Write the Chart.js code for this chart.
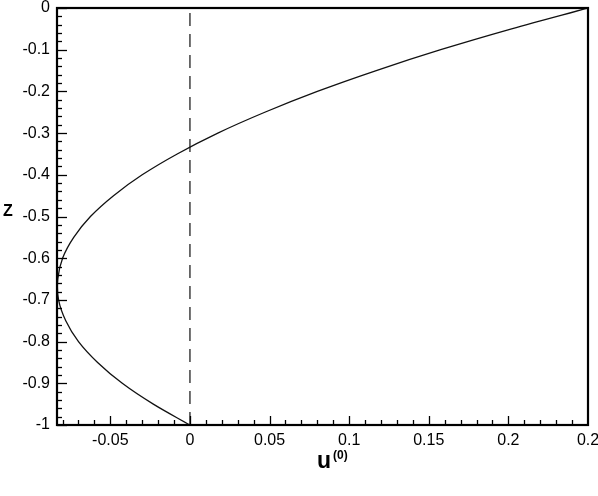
<!DOCTYPE html>
<html>
<head>
<meta charset="utf-8">
<script src="https://cdn.jsdelivr.net/npm/chart.js@4.4.0/dist/chart.umd.min.js"></script>
<style>
  html, body { margin: 0; padding: 0; background: #fff; }
  #wrap { width: 598px; height: 496px; }
</style>
</head>
<body>
<div id="wrap"><canvas id="profileChart" width="598" height="496"></canvas></div>
<script>
// values: z (vertical) and u(0) (horizontal)
const zValues = [0, -0.05, -0.1, -0.15, -0.2, -0.25, -0.3, -0.35, -0.4, -0.45, -0.5,
                 -0.55, -0.6, -0.65, -0.7, -0.75, -0.8, -0.85, -0.9, -0.95, -1];
const uValues = [0.25, 0.202, 0.1575, 0.117, 0.08, 0.047, 0.0175, -0.008, -0.03, -0.048, -0.0625,
                 -0.073, -0.08, -0.083, -0.0825, -0.078, -0.07, -0.058, -0.0425, -0.023, 0];

// dashed reference line at u = 0
const refU = [0, 0];
const refZ = [-1, 0];

// tick labels (as printed on the original)
const xTickValues = [-0.05, 0, 0.05, 0.1, 0.15, 0.2, 0.25];
const xTickLabels = ["-0.05", "0", "0.05", "0.1", "0.15", "0.2", "0.2"];
const yTickValues = [0, -0.1, -0.2, -0.3, -0.4, -0.5, -0.6, -0.7, -0.8, -0.9, -1];
const yTickLabels = ["0", "-0.1", "-0.2", "-0.3", "-0.4", "-0.5", "-0.6", "-0.7", "-0.8", "-0.9", "-1"];

const FONT = "'Liberation Sans', Arial, Helvetica, sans-serif";

// ✅ Frame, inward tick marks and axis titles
const framePlugin = {
    id: "frame",
    afterDraw(chart) {
        const ctx = chart.ctx;
        const area = chart.chartArea;
        const xs = chart.scales.x;
        const ys = chart.scales.y;

        ctx.save();
        ctx.strokeStyle = "#000";
        ctx.lineWidth = 1.3;

        // y ticks: major every 0.1, minor every 0.02
        for (let i = 0; i <= 50; i++) {
            const py = Math.round(ys.getPixelForValue(-i * 0.02)) + 0.5;
            const len = (i % 5 === 0) ? 10 : 5;
            ctx.beginPath();
            ctx.moveTo(area.left, py);
            ctx.lineTo(area.left + len, py);
            ctx.stroke();
        }
        // x ticks: major every 0.05, minor every 0.01
        for (let i = -8; i <= 25; i++) {
            const px = Math.round(xs.getPixelForValue(i * 0.01)) + 0.5;
            if (px < area.left || px > area.right) continue;
            const len = (i % 5 === 0) ? 9 : 5;
            ctx.beginPath();
            ctx.moveTo(px, area.bottom);
            ctx.lineTo(px, area.bottom - len);
            ctx.stroke();
        }

        // frame
        ctx.lineWidth = 2.2;
        ctx.strokeRect(area.left, area.top, area.right - area.left, area.bottom - area.top);

        // axis titles
        ctx.fillStyle = "#000";
        ctx.textBaseline = "alphabetic";
        ctx.textAlign = "left";
        ctx.font = "bold 16px " + FONT;
        ctx.fillText("Z", 3, 216);
        ctx.font = "bold 23px " + FONT;
        ctx.fillText("u", 317, 468);
        ctx.font = "bold 12px " + FONT;
        ctx.fillText("(0)", 333, 459);
        ctx.restore();
    }
};

function renderProfileChart() {
    const chartCanvas = document.getElementById("profileChart").getContext("2d");

    new Chart(chartCanvas, {
        type: "scatter",
        data: {
            datasets: [
                {
                    data: uValues.map((u, i) => ({ x: u, y: zValues[i] })),
                    showLine: true,
                    borderColor: "#111",
                    borderWidth: 1.3,
                    pointRadius: 0,
                    tension: 0.35,
                    fill: false
                },
                {
                    data: refU.map((u, i) => ({ x: u, y: refZ[i] })),
                    showLine: true,
                    borderColor: "#222",
                    borderWidth: 1.3,
                    borderDash: [13, 8],
                    pointRadius: 0,
                    fill: false
                }
            ]
        },
        options: {
            responsive: false,
            animation: false,
            layout: { padding: { left: 0, top: 8, right: 10, bottom: 0 } },
            plugins: {
                legend: { display: false },
                tooltip: { enabled: false }
            },
            scales: {
                x: {
                    type: "linear",
                    min: -0.0835,
                    max: 0.25,
                    grid: { display: false, drawTicks: false },
                    border: { display: false },
                    afterBuildTicks: (scale) => {
                        scale.ticks = xTickValues.map(v => ({ value: v }));
                    },
                    afterFit: (scale) => {
                        scale.height = 71;
                        scale.paddingLeft = 0;
                        scale.paddingRight = 0;
                    },
                    ticks: {
                        autoSkip: false,
                        maxRotation: 0,
                        padding: 6,
                        color: "#000",
                        font: { family: FONT, size: 16 },
                        callback: (value, index) => xTickLabels[index]
                    }
                },
                y: {
                    type: "linear",
                    min: -1,
                    max: 0,
                    grid: { display: false, drawTicks: false },
                    border: { display: false },
                    afterBuildTicks: (scale) => {
                        scale.ticks = yTickValues.map(v => ({ value: v }));
                    },
                    afterFit: (scale) => {
                        scale.width = 57;
                        scale.paddingTop = 0;
                        scale.paddingBottom = 0;
                    },
                    ticks: {
                        autoSkip: false,
                        padding: 7,
                        color: "#000",
                        font: { family: FONT, size: 16 },
                        callback: (value, index) => yTickLabels[index]
                    }
                }
            }
        },
        plugins: [framePlugin]
    });
}

renderProfileChart();
</script>
</body>
</html>
